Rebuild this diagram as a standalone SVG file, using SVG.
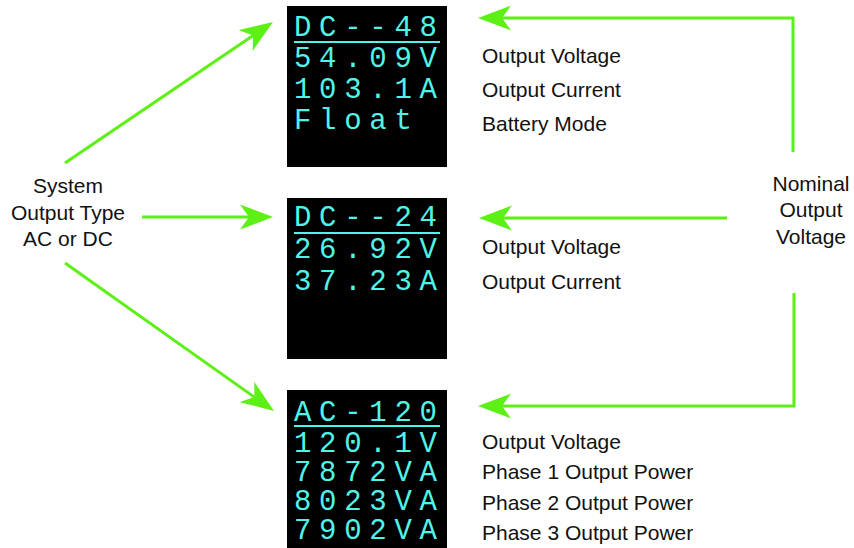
<svg xmlns="http://www.w3.org/2000/svg" width="854" height="548" viewBox="0 0 854 548">
<style>
.lbl{font-family:"Liberation Sans",Arial,sans-serif;font-size:21px;fill:#111}
.mid{text-anchor:middle}
.scr{fill:#000}
.lcd{font-family:"Liberation Mono","DejaVu Sans Mono",monospace;font-size:29px;letter-spacing:7.7px;fill:#52f4e8}
.ul{stroke:#52f4e8;stroke-width:2}
.con{fill:none;stroke:#5cf014;stroke-width:3;marker-end:url(#ah)}
</style>
<defs>
<marker id="ah" markerUnits="userSpaceOnUse" markerWidth="34" markerHeight="26" viewBox="0 0 34 26" refX="9" refY="13" orient="auto">
<path d="M33,13 L0,0.5 L9,13 L0,25.5 Z" fill="#5cf014"/>
</marker>
</defs>
<rect width="854" height="548" fill="#fff"/>
<g id="connectors">
<line class="con" x1="65" y1="163" x2="253.1" y2="35.5"/>
<line class="con" x1="142" y1="217" x2="249" y2="217"/>
<line class="con" x1="65" y1="263" x2="254.4" y2="397.1"/>
<path class="con" d="M793,152 V18 H502"/>
<path class="con" d="M727,218 H503"/>
<path class="con" d="M794,293 V406 H502"/>
</g>
<g id="system-type">
<text class="lbl mid" x="68" y="193">System</text>
<text class="lbl mid" x="68" y="220">Output Type</text>
<text class="lbl mid" x="68" y="246">AC or DC</text>
</g>
<g id="nominal-voltage">
<text class="lbl mid" x="811" y="191">Nominal</text>
<text class="lbl mid" x="811" y="217">Output</text>
<text class="lbl mid" x="811" y="244">Voltage</text>
</g>
<g id="display-dc48">
<rect class="scr" x="287" y="6" width="160" height="161"/>
<text class="lcd" x="294" y="36">DC--48</text>
<line class="ul" x1="294" y1="42" x2="440" y2="42"/>
<text class="lcd" x="294" y="67">54.09V</text>
<text class="lcd" x="294" y="98">103.1A</text>
<text class="lcd" x="294" y="129">Float</text>
</g>
<g id="labels-dc48">
<text class="lbl" x="482" y="63">Output Voltage</text>
<text class="lbl" x="482" y="97">Output Current</text>
<text class="lbl" x="482" y="131">Battery Mode</text>
</g>
<g id="display-dc24">
<rect class="scr" x="287" y="198" width="160" height="161"/>
<text class="lcd" x="294" y="226">DC--24</text>
<line class="ul" x1="294" y1="233" x2="440" y2="233"/>
<text class="lcd" x="294" y="258">26.92V</text>
<text class="lcd" x="294" y="290">37.23A</text>
</g>
<g id="labels-dc24">
<text class="lbl" x="482" y="254">Output Voltage</text>
<text class="lbl" x="482" y="289">Output Current</text>
</g>
<g id="display-ac120">
<rect class="scr" x="287" y="390" width="160" height="158"/>
<text class="lcd" x="294" y="421">AC-120</text>
<line class="ul" x1="294" y1="426" x2="440" y2="426"/>
<text class="lcd" x="294" y="452">120.1V</text>
<text class="lcd" x="294" y="481">7872VA</text>
<text class="lcd" x="294" y="510">8023VA</text>
<text class="lcd" x="294" y="539">7902VA</text>
</g>
<g id="labels-ac120">
<text class="lbl" x="482" y="449">Output Voltage</text>
<text class="lbl" x="482" y="479">Phase 1 Output Power</text>
<text class="lbl" x="482" y="510">Phase 2 Output Power</text>
<text class="lbl" x="482" y="540">Phase 3 Output Power</text>
</g>
</svg>
